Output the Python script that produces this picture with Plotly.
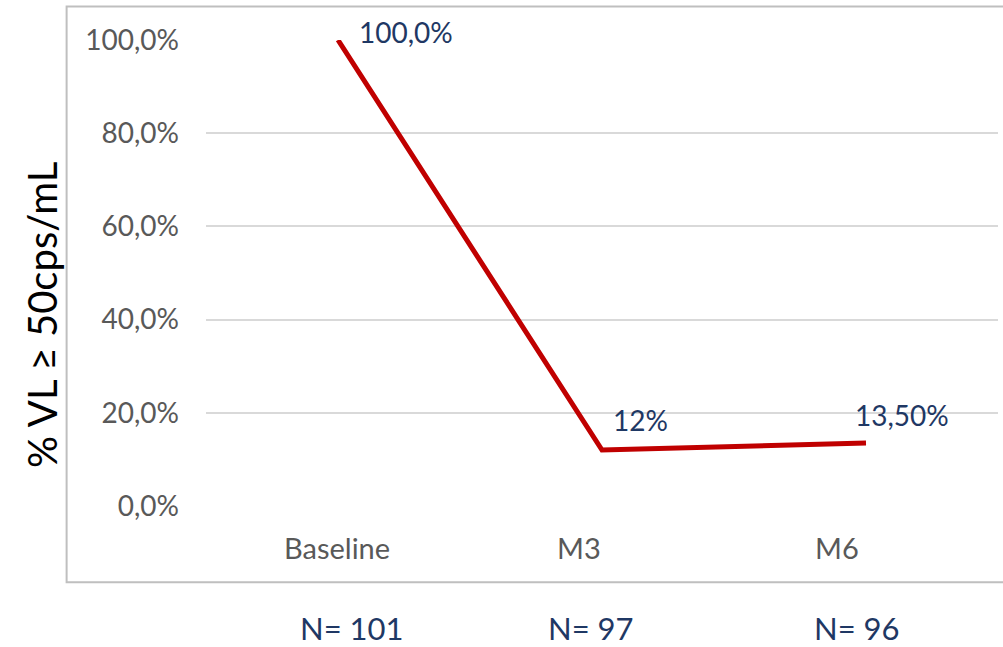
import plotly.graph_objects as go

# Share of patients with viral load >= 50 cps/mL at each visit
visits = ["Baseline", "M3", "M6"]
pct_detectable = [1.00, 0.12, 0.135]
value_labels = ["100,0%", "12%", "13,50%"]
sample_sizes = [101, 97, 96]

FONT = "Lato"
GREY = "#595959"
NAVY = "#1f3864"
RED = "#c00000"

fig = go.Figure()
fig.add_trace(go.Scatter(
    x=visits, y=pct_detectable, mode="lines",
    line=dict(color=RED, width=5), hoverinfo="skip", showlegend=False,
))

# value labels beside each point
label_shift = [(19, 8), (9, 30), (-13, 28)]
for v, p, t, (dx, dy) in zip(visits, pct_detectable, value_labels, label_shift):
    fig.add_annotation(x=v, y=p, xref="x", yref="y", text=t, showarrow=False,
                       xanchor="left", yanchor="middle", xshift=dx, yshift=dy,
                       font=dict(family=FONT, size=28, color=NAVY))

# category labels under the plot
cat_shift = [-1, -23, -29]
for v, dx in zip(visits, cat_shift):
    fig.add_annotation(x=v, y=-0.088, xref="x", yref="paper", text=v, showarrow=False,
                       xanchor="center", yanchor="middle", xshift=dx,
                       font=dict(family=FONT, size=29, color=GREY))

# sample sizes under the chart frame
n_shift = [14, -11, -9]
for v, n, dx in zip(visits, sample_sizes, n_shift):
    fig.add_annotation(x=v, y=-0.262, xref="x", yref="paper", text=f"N= {n}",
                       showarrow=False, xanchor="center", yanchor="middle", xshift=dx,
                       font=dict(family=FONT, size=31, color=NAVY))

# rotated y-axis title
fig.add_annotation(x=-0.207, y=0.41, xref="paper", yref="paper",
                   text="% VL ≥ 50cps/mL", textangle=-90, showarrow=False,
                   xanchor="center", yanchor="middle",
                   font=dict(family=FONT, size=40, color="#000000"))

# chart frame
fig.add_shape(type="rect", xref="paper", yref="paper",
              x0=-0.176, x1=1.02, y0=-0.1637, y1=1.0719,
              line=dict(color="#bfbfbf", width=2), fillcolor="rgba(0,0,0,0)", layer="below")

fig.update_layout(
    width=1003, height=647,
    margin=dict(l=206, r=5, t=40, b=141),
    paper_bgcolor="white", plot_bgcolor="white",
    separators=", ",
    font=dict(family=FONT),
    xaxis=dict(type="category", range=[-0.5, 2.5], showticklabels=False,
               showgrid=False, zeroline=False, showline=False, fixedrange=True),
    yaxis=dict(range=[0, 1], tickvals=[0, 0.2, 0.4, 0.6, 0.8, 1.0], tickformat=".1%",
               showgrid=True, gridcolor="#d9d9d9", gridwidth=1.5,
               zeroline=False, showline=False, ticks="", ticklabelstandoff=26,
               tickfont=dict(family=FONT, size=28, color=GREY)),
)

fig.write_html("out.html")
